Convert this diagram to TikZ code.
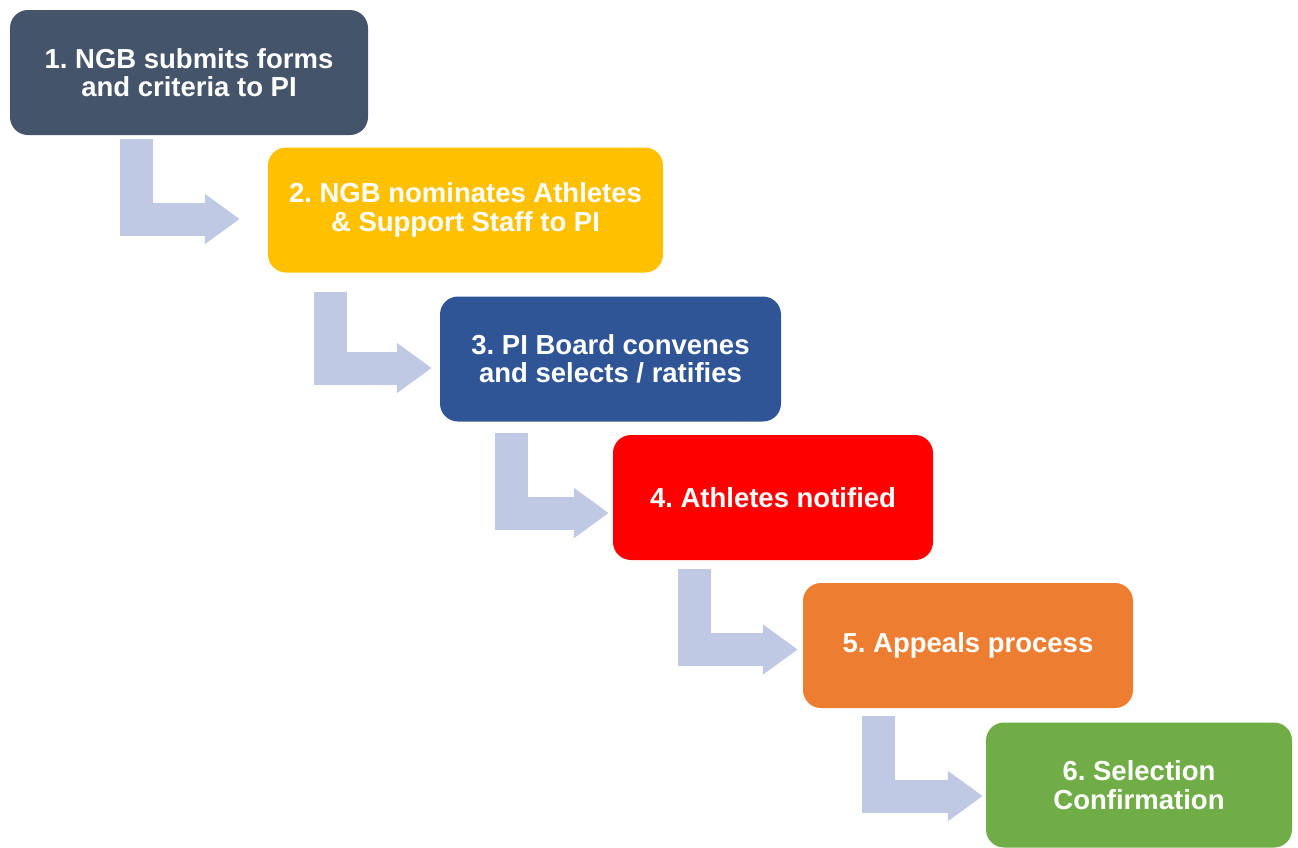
\documentclass[tikz,border=0pt]{standalone}
\usepackage{fontspec}
\setmainfont{Liberation Sans}
\usepackage{xcolor}
\usepackage{tikz}
\usetikzlibrary{positioning, arrows.meta, calc}

\definecolor{slate}{HTML}{44546A}
\definecolor{amber}{HTML}{FFC000}
\definecolor{navy}{HTML}{2F5597}
\definecolor{alert}{HTML}{FF0000}
\definecolor{tangerine}{HTML}{ED7D31}
\definecolor{leaf}{HTML}{70AD47}
\definecolor{arrowblue}{HTML}{BFC9E4}

\begin{document}
\frenchspacing
\begin{tikzpicture}[x=1pt, y=-1pt,
        stage/.style={rectangle, rounded corners=18pt, text=white, align=center, inner sep=0pt, minimum height=125pt, font=\fontsize{27.5}{28.5}\selectfont\bfseries},
        elbow/.style={draw=arrowblue, line width=33pt, line join=miter, -{Triangle[length=35pt, width=48pt, fill=arrowblue]}}
    ]
        \useasboundingbox (0,0) rectangle (1298,847);

        \node[stage, fill=slate, minimum width=358pt] (submit) at (189,72.5) {1. NGB submits forms\\and criteria to PI};

        \node[stage, fill=amber, minimum width=395pt] (nominate) at (465.5,210) {2. NGB nominates Athletes\\\& Support Staff to PI};

        \node[stage, fill=navy, minimum width=341pt] (board) at (610.5,359) {3. PI Board convenes\\and selects / ratifies};

        \node[stage, fill=alert, minimum width=320pt] (notify) at (773,497.5) {4. Athletes notified};

        \node[stage, fill=tangerine, minimum width=330pt] (appeal) at (968,645.5) {5. Appeals process};

        \node[stage, fill=leaf, minimum width=306pt] (confirm) at (1139,785) {6. Selection\\Confirmation};

        \draw[elbow] ($(submit.south west)+(126.5,4)$) |- ($(nominate.west)+(-28,9)$);
        \draw[elbow] ($(nominate.south west)+(62.5,19)$) |- ($(board.west)+(-8,9)$);
        \draw[elbow] ($(board.south west)+(72,11)$) |- ($(notify.west)+(-4,15.5)$);
        \draw[elbow] ($(notify.south west)+(82,9)$) |- ($(appeal.west)+(-5,4)$);
        \draw[elbow] ($(appeal.south west)+(76,8)$) |- ($(confirm.west)+(-3,11)$);
    \end{tikzpicture}
\end{document}
